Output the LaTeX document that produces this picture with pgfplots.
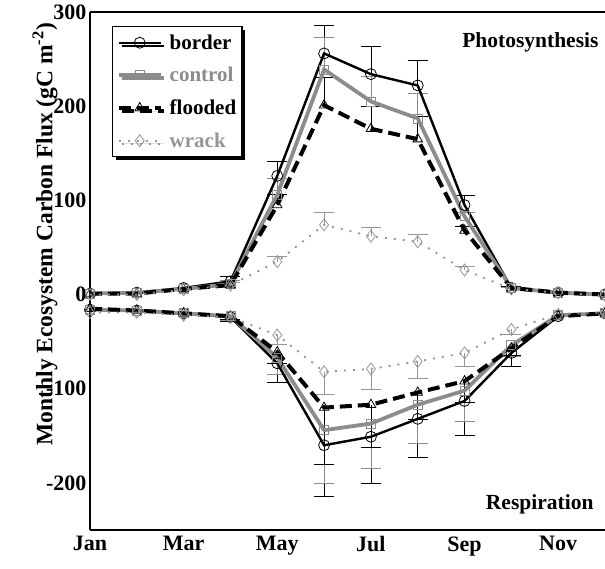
\documentclass[border=0pt]{standalone}
\usepackage{fontspec}
\setmainfont{Liberation Serif}
\usepackage{pgfplots}
\usepackage{pgfplotstable}
\pgfplotsset{compat=1.18}
\usetikzlibrary{shadows}
\definecolor{cgray}{RGB}{140,140,140}
\definecolor{wgray}{RGB}{150,150,150}

\pgfplotstableread{
m bp cp fp wp br cr fr wr bpe cpe fpe wpe bre cre fre wre
1 1 1 1 0 -16 -16 -15 -19 0 0 0 0 0 0 0 0
2 2 2 1 0 -17 -17 -17 -19 0 0 0 0 0 0 0 0
3 7 6 6 5 -20 -20 -20 -22 0 0 0 0 0 0 0 0
4 14 11 10 10 -24 -23 -23 -24 5 4 3 3 4 4 3 3
5 126 106 95 35 -73 -67 -61 -43 15 17 11 6 20 18 12 10
6 256 239 201 74 -160 -144 -120 -82 30 34 30 13 54 56 60 24
7 234 205 176 62 -151 -137 -117 -79 30 27 24 9 49 48 45 22
8 222 187 165 56 -132 -117 -104 -71 27 27 24 8 41 41 29 18
9 95 83 68 26 -113 -102 -92 -62 10 4 4 4 37 33 23 14
10 7 7 7 6 -62 -54 -57 -37 2 2 2 2 14 12 8 5
11 2 2 2 2 -23 -22 -23 -21 0 0 0 0 0 0 0 0
12 0 0 0 -1 -20 -20 -20 -19 0 0 0 0 0 0 0 0
}\data

\pgfplotsset{
  ebp/.style={draw=none, mark=none, forget plot, restrict x to domain=4:10,
    error bars/.cd, y dir=plus, y explicit,
    error bar style={line width=0.7pt, draw=#1, solid},
    error mark options={rotate=90, line width=0.7pt, draw=#1, solid, mark size=10pt}},
  ebm/.style={draw=none, mark=none, forget plot, restrict x to domain=4:10,
    error bars/.cd, y dir=minus, y explicit,
    error bar style={line width=0.7pt, draw=#1, solid},
    error mark options={rotate=90, line width=0.7pt, draw=#1, solid, mark size=10pt}},
  sborder/.style={black, line width=2.4pt, mark=o, mark size=5.5pt, mark options={solid, line width=0.8pt, fill=white}},
  scontrol/.style={cgray, line width=3.8pt, mark=square, mark size=4.5pt, mark options={solid, line width=0.8pt, fill=white}},
  sflooded/.style={black, line width=4pt, dash pattern=on 12pt off 6pt, mark=triangle, mark size=5.5pt, mark options={solid, line width=0.8pt, fill=white}},
  swrack/.style={wgray, line width=1.8pt, dash pattern=on 2pt off 7pt, mark=diamond, mark size=6pt, mark options={solid, line width=0.8pt, fill=white}},
}

\begin{document}
\begin{tikzpicture}
\begin{axis}[
  scale only axis, width=515pt, height=518pt,
  xmin=1, xmax=12, ymin=-250, ymax=300,
  axis x line*=box, axis y line*=left,
  axis line style={line width=2.6pt},
  major tick length=0pt,
  xtick={1,3,5,7,9,11}, xticklabels={Jan,Mar,May,Jul,Sep,Nov},
  ytick={-200,-100,0,100,200,300}, yticklabels={-200,-100,0,100,200,300},
  tick label style={font=\fontsize{22}{24}\selectfont\bfseries},
  xticklabel style={yshift=-3pt},
  ylabel={Monthly Ecosystem Carbon Flux (gC m\textsuperscript{-2})},
  every axis y label/.style={at={(axis description cs:0,0.571)}, xshift=-45pt, rotate=90, anchor=center, font=\fontsize{23.5}{26}\selectfont\bfseries},
  legend style={at={(axis description cs:0.0427,0.973)}, anchor=north west, draw=black, line width=1.5pt, fill=white,
    inner xsep=4pt, inner ysep=6pt, font=\fontsize{21}{24}\selectfont\bfseries, row sep=12.5pt,
    /tikz/every odd column/.append style={column sep=5pt},
    drop shadow={shadow xshift=3pt, shadow yshift=-3pt, fill=black, opacity=1}},
  legend cell align=left,
  legend image code/.code={\draw[mark repeat=2, mark phase=2] plot coordinates {(0pt,0pt) (21pt,0pt) (42pt,0pt)};},
]
% error bars
\addplot[ebp=black] table[x=m, y=bp, y error=bpe] {\data};
\addplot[ebp=cgray] table[x=m, y=cp, y error=cpe] {\data};
\addplot[ebp=black] table[x=m, y=fp, y error=fpe] {\data};
\addplot[ebp=wgray] table[x=m, y=wp, y error=wpe] {\data};
\addplot[ebm=black] table[x=m, y=br, y error=bre] {\data};
\addplot[ebm=cgray] table[x=m, y=cr, y error=cre] {\data};
\addplot[ebm=black] table[x=m, y=fr, y error=fre] {\data};
\addplot[ebm=wgray] table[x=m, y=wr, y error=wre] {\data};
% lines
\addplot[sborder] table[x=m, y=bp] {\data};
\addlegendentry{border}
\addplot[scontrol] table[x=m, y=cp] {\data};
\addlegendentry{\textcolor{cgray}{control}}
\addplot[sflooded] table[x=m, y=fp] {\data};
\addlegendentry{flooded}
\addplot[swrack] table[x=m, y=wp] {\data};
\addlegendentry{\textcolor{wgray}{wrack}}
\addplot[sborder, forget plot] table[x=m, y=br] {\data};
\addplot[scontrol, forget plot] table[x=m, y=cr] {\data};
\addplot[sflooded, forget plot] table[x=m, y=fr] {\data};
\addplot[swrack, forget plot] table[x=m, y=wr] {\data};
\node[anchor=base east, font=\fontsize{21.5}{24}\selectfont\bfseries] at (rel axis cs:1,0.932) [xshift=-3pt] {Photosynthesis};
\node[anchor=base east, font=\fontsize{21.5}{24}\selectfont\bfseries] at (rel axis cs:1,0.0386) [xshift=-8pt] {Respiration};
\coordinate (ll) at (rel axis cs:0,0);
\coordinate (ur) at (rel axis cs:1,1);
\end{axis}
\pgfresetboundingbox
\path[use as bounding box] ([shift={(-90pt,-39pt)}]ll) rectangle ([shift={(0pt,12pt)}]ur);
\end{tikzpicture}
\end{document}
